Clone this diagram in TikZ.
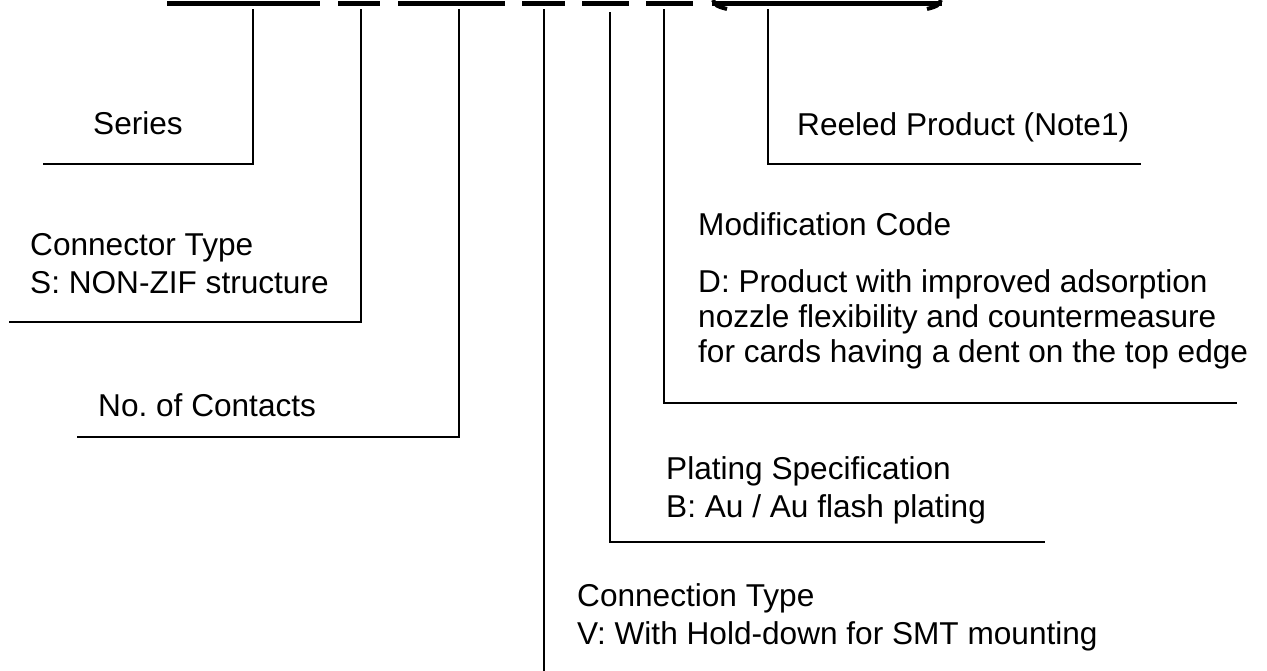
\documentclass[tikz,border=0pt]{standalone}
\usepackage{fontspec}
\setmainfont{Liberation Sans}
\begin{document}
\begin{tikzpicture}[x=1pt,y=-1pt,
	lbl/.style={
		anchor=base west, inner sep=0pt, align=left,
		font=\fontsize{31.6}{38}\selectfont,
	},
	lead/.style={line width=2.6pt},
	bar/.style={line width=5pt}
	]
	\useasboundingbox (0,0) rectangle (1267,670);
	
	% part number fields
	\foreach \a/\b in {167/320,338/380,398/505,522/565,582/629,646/693,712/942}
		\draw[bar] (\a,3) -- (\b,3);
	\draw[line width=4pt] (713,0) .. controls (716,6) .. (727,9);
	\draw[line width=4pt] (941,0) .. controls (938,6) .. (927,9);
	
	% labels (base = last line)
	\node[lbl] (series) at (93,134) {Series};
	\node[lbl] (ctype) at (30,293) {Connector Type\\S: NON-ZIF structure};
	\node[lbl] (contacts) at (98,416) {No.\ of Contacts};
	\node[lbl] (reel) at (797,135) {Reeled Product (Note1)};
	\node[lbl] (modif) at (698,235) {Modification Code};
	\node[lbl, font=\fontsize{31.6}{35}\selectfont] (modifD) at (698,362)
	{D: Product with improved adsorption\\nozzle flexibility and countermeasure\\for cards having a dent on the top edge};
	\node[lbl] (plating) at (666,517) {Plating Specification\\B: Au / Au flash plating};
	\node[lbl] (conn) at (577,644) {Connection Type\\V: With Hold-down for SMT mounting};
	
	% leader lines
	\coordinate (series-top) at (253,9);
	\coordinate (series-end) at (43,164);
	\coordinate (ctype-top) at (361,9);
	\coordinate (ctype-end) at (9,322);
	\coordinate (contacts-top) at (459,9);
	\coordinate (contacts-end) at (77,437);
	\coordinate (conn-top) at (544,9);
	\coordinate (conn-end) at (544,672);
	\coordinate (plating-top) at (610,12);
	\coordinate (plating-end) at (1045,542);
	\coordinate (modif-top) at (664,9);
	\coordinate (modif-end) at (1237,403);
	\coordinate (reel-top) at (768,9);
	\coordinate (reel-end) at (1141,164);
	
	\draw[lead] (series-top) |- (series-end);
	\draw[lead] (ctype-top) |- (ctype-end);
	\draw[lead] (contacts-top) |- (contacts-end);
	\draw[lead] (conn-top) -- (conn-end);
	\draw[lead] (plating-top) |- (plating-end);
	\draw[lead] (modif-top) |- (modif-end);
	\draw[lead] (reel-top) |- (reel-end);
\end{tikzpicture}
\end{document}
